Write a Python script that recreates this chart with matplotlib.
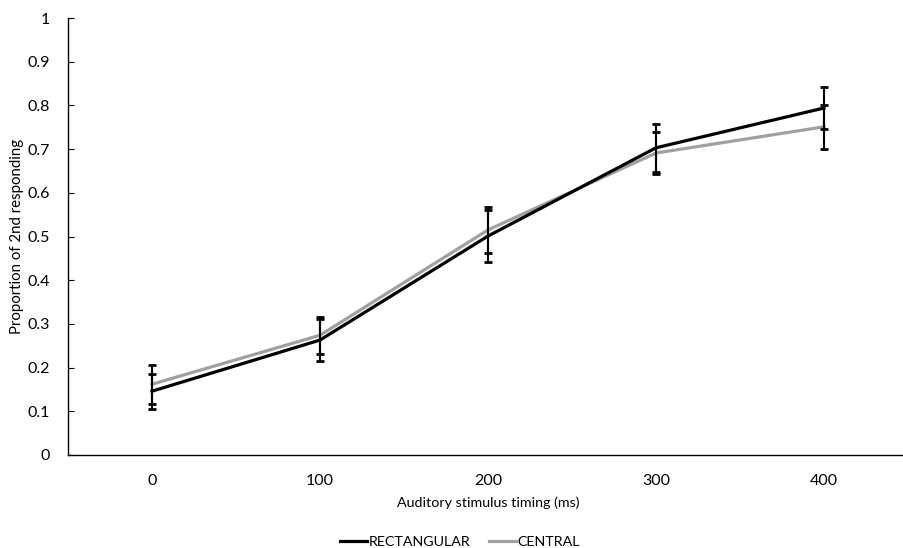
import numpy as np
import matplotlib
matplotlib.use("Agg")
import matplotlib.pyplot as plt

plt.rcParams['font.family'] = ['Lato', 'DejaVu Sans']

# data
timing = ['0', '100', '200', '300', '400']
rect_mean = [0.146, 0.263, 0.501, 0.703, 0.794]
rect_err = [0.040, 0.048, 0.060, 0.055, 0.047]
central_mean = [0.162, 0.274, 0.515, 0.691, 0.751]
central_err = [0.045, 0.042, 0.052, 0.048, 0.050]

fig = plt.figure(figsize=(9.04, 5.48), dpi=100)
ax_w = 840
ax = fig.add_axes([68/904, (548-455)/548, ax_w/904, (455-18)/548])

x = np.arange(len(timing))

ax.plot(x, rect_mean, color='black', lw=2.3, label='RECTANGULAR', zorder=3)
ax.plot(x, central_mean, color='#a0a0a0', lw=2.3, label='CENTRAL', zorder=2)
ax.errorbar(x, rect_mean, yerr=rect_err, fmt='none', ecolor='black',
            elinewidth=1.5, capsize=2.6, capthick=2, zorder=4)
ax.errorbar(x, central_mean, yerr=central_err, fmt='none', ecolor='black',
            elinewidth=1.5, capsize=2.6, capthick=2, zorder=4)

ax.set_xlim(-0.5, len(timing) - 0.5)
ax.set_ylim(0, 1)
ax.set_xticks(x)
ax.set_xticklabels(timing)
ax.set_yticks(np.arange(0, 1.01, 0.1))
ax.set_yticklabels(['0'] + ['%.1f' % v for v in np.arange(0.1, 1.0, 0.1)] + ['1'])

for s in ['top', 'right']:
    ax.spines[s].set_visible(False)
ax.spines['left'].set_color('black')
ax.spines['bottom'].set_color('black')
ax.spines['left'].set_linewidth(1.0)
ax.spines['bottom'].set_linewidth(1.0)

ax.tick_params(axis='y', direction='in', length=4, labelsize=11.5, pad=13)
ax.tick_params(axis='x', length=0, labelsize=11.5, pad=14)

ax.set_xlabel('Auditory stimulus timing (ms)', fontsize=10.3, labelpad=6)
ax.set_ylabel('Proportion of 2nd responding', fontsize=10.8)
ax.yaxis.set_label_coords((24 - 68) / ax_w, 0.5)

fig.legend(loc='center', bbox_to_anchor=(460/904, 1 - 542/548), ncol=2, frameon=False,
           fontsize=10.3, handlelength=1.9, handletextpad=0.1, columnspacing=1.3)

fig.savefig('out.png', dpi=100)
